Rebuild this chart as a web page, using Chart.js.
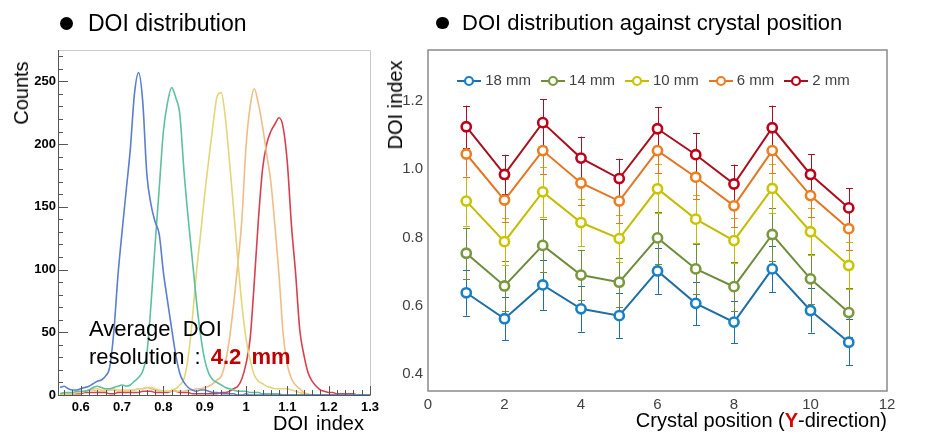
<!DOCTYPE html>
<html><head><meta charset="utf-8">
<script src="https://cdn.jsdelivr.net/npm/chart.js@4.4.1/dist/chart.umd.min.js"></script>
<style>
html,body{margin:0;padding:0;background:#fff;}
#wrap{position:relative;width:948px;height:445px;overflow:hidden;font-family:"Liberation Sans",Arial,sans-serif;background:#fff;}
canvas{position:absolute;top:0;}
#c1{left:0;}
#c2{left:380px;}
.t{position:absolute;white-space:nowrap;color:#000;}
.dot{position:absolute;width:13px;height:13px;border-radius:50%;background:#000;}
.rot{position:absolute;white-space:nowrap;transform:translate(-50%,-50%) rotate(-90deg);}
</style></head><body>
<div id="wrap">
<canvas id="c1" width="380" height="445"></canvas>
<canvas id="c2" width="568" height="445"></canvas>

<div class="dot" style="left:60px;top:16.5px;"></div>
<div class="t" style="left:88px;top:11.5px;font-size:23px;line-height:23px;">DOI distribution</div>
<div class="dot" style="left:436px;top:16.5px;width:12.5px;height:12.5px;"></div>
<div class="t" style="left:462px;top:12.4px;font-size:22px;line-height:22px;">DOI distribution against crystal position</div>

<div class="rot" style="left:21px;top:93px;font-size:20px;line-height:20px;">Counts</div>
<div class="t" style="left:273px;top:413px;font-size:20px;line-height:20px;word-spacing:2px;">DOI index</div>
<div class="t" style="left:89px;top:318.4px;font-size:22px;line-height:22px;word-spacing:6px;">Average DOI</div>
<div class="t" style="left:89px;top:346.4px;font-size:22px;line-height:22px;word-spacing:4px;">resolution : <b style="color:#c00000;">4.2 mm</b></div>

<div class="rot" style="left:395px;top:105px;font-size:20px;line-height:20px;">DOI index</div>
<div class="t" style="right:61px;top:410px;font-size:20px;line-height:20px;">Crystal position (<b style="color:#e00000;">Y</b>-direction)</div>
</div>
<script>
// ---------- Left panel: DOI distribution histograms ----------
const doiBins = [0.55,0.56,0.57,0.58,0.59,0.60,0.61,0.62,0.63,0.64,
  0.65,0.66,0.67,0.68,0.69,0.70,0.71,0.72,0.73,0.74,
  0.75,0.76,0.77,0.78,0.79,0.80,0.81,0.82,0.83,0.84,
  0.85,0.86,0.87,0.88,0.89,0.90,0.91,0.92,0.93,0.94,
  0.95,0.96,0.97,0.98,0.99,1.00,1.01,1.02,1.03,1.04,
  1.05,1.06,1.07,1.08,1.09,1.10,1.11,1.12,1.13,1.14,
  1.15,1.16,1.17,1.18,1.19,1.20,1.21,1.22,1.23,1.24,
  1.25,1.26,1.27,1.28,1.29,1.30];
const counts18 = [6,7,5,4,4,5,6,7,9,11, 12,15,22,50,95,130,163,196,240,257, 234,176,152,138,128,98,75,53,32,17, 10,6,4,3,4,4,3,2,2,1, 1,1,1,0,0,1,0,0,0,0, 0,0,0,0,0,0,0,0,0,0, 0,0,0,0,0,0,0,0,0,0, 0,0,0,0,0,0];
const counts14 = [1,2,2,2,3,3,3,4,6,7, 6,5,5,6,7,8,7,8,11,14, 19,33,72,120,165,210,233,245,237,223, 178,141,108,75,48,28,17,12,10,8, 6,5,4,3,3,3,2,2,2,1, 1,1,1,1,0,0,0,0,0,0, 0,0,0,0,0,0,0,0,0,0, 0,0,0,0,0,0];
const counts10 = [0,1,1,1,2,2,3,4,5,5, 4,4,5,5,4,4,4,4,4,5, 5,6,6,5,4,3,3,4,5,8, 13,30,60,98,128,160,188,215,238,241, 221,186,148,108,72,45,28,16,11,9, 7,6,5,5,5,5,4,3,2,1, 0,0,0,0,0,0,0,0,0,0, 0,0,0,0,0,0];
const counts6 = [0,0,1,1,2,2,3,4,4,3, 3,3,4,4,3,3,3,3,4,5, 5,6,5,4,3,3,3,3,3,3, 3,4,4,5,5,6,7,9,12,15, 26,45,72,104,140,198,230,244,232,214, 192,170,135,95,48,24,13,8,5,2, 1,0,0,0,0,0,0,0,0,0, 0,0,0,0,0,0];
const counts2 = [1,1,1,1,1,1,2,2,2,2, 2,2,1,1,2,2,2,2,2,2, 3,3,3,2,2,2,2,3,3,2, 2,2,1,1,1,1,1,1,1,2, 2,3,5,7,13,25,45,90,140,180, 200,210,216,221,213,185,135,97,52,32, 18,11,7,4,3,2,2,1,1,1, 1,1,0,0,0,0];
const histSeries = [counts18, counts14, counts10, counts6, counts2];
const histColors = ['#5a7fcf','#5fc0a0','#e2d67a','#f0bd86','#d9404f'];
const histXTicks = [0.6,0.7,0.8,0.9,1.0,1.1,1.2,1.3];
const histXTickLabels = ['0.6','0.7','0.8','0.9','1','1.1','1.2','1.3'];
const histYTicks = [0,50,100,150,200,250];
const histYTickLabels = ['0','50','100','150','200','250'];

// ---------- Right panel: DOI index vs crystal position ----------
const crystalPos = [1,2,3,4,5,6,7,8,9,10,11];
const seriesLabels = ['18 mm','14 mm','10 mm','6 mm','2 mm'];
const doi18 = [0.638,0.562,0.661,0.591,0.571,0.702,0.607,0.552,0.708,0.586,0.493];
const doi14 = [0.754,0.658,0.777,0.690,0.669,0.799,0.708,0.656,0.809,0.679,0.580];
const doi10 = [0.907,0.788,0.934,0.844,0.797,0.943,0.854,0.791,0.944,0.817,0.718];
const doi6  = [1.045,0.910,1.055,0.960,0.907,1.055,0.977,0.893,1.055,0.923,0.826];
const doi2  = [1.125,0.985,1.137,1.033,0.973,1.119,1.043,0.957,1.122,0.985,0.887];
const err18 = [0.067,0.063,0.073,0.067,0.065,0.067,0.064,0.062,0.068,0.065,0.067];
const err14 = [0.075,0.072,0.078,0.074,0.072,0.076,0.074,0.071,0.077,0.073,0.072];
const err10 = [0.072,0.068,0.074,0.070,0.068,0.072,0.070,0.067,0.073,0.069,0.068];
const err6  = [0.066,0.063,0.068,0.065,0.063,0.066,0.065,0.062,0.067,0.064,0.063];
const err2  = [0.062,0.058,0.068,0.063,0.058,0.063,0.064,0.057,0.065,0.060,0.057];
const doiSeries = [doi18, doi14, doi10, doi6, doi2];
const errSeries = [err18, err14, err10, err6, err2];
const lineColors = ['#1f6fa6','#6f8c3c','#c2bd00','#e37622','#a8101f'];
const markColors = ['#1a80c6','#7a983e','#cac500','#ec7f22','#c0001a'];
const posTicks = [0,2,4,6,8,10,12];
const posTickLabels = ['0','2','4','6','8','10','12'];
const doiTicks = [0.4,0.6,0.8,1.0,1.2];
const doiTickLabels = ['0.4','0.6','0.8','1.0','1.2'];

const SANS = '"Liberation Sans", Arial, sans-serif';

// frame + inward ROOT-style ticks for left panel
const rootFrame = {
  id:'rootFrame',
  afterDraw(chart){
    const {ctx, chartArea:a, scales:{x,y}} = chart;
    ctx.save();
    ctx.lineWidth = 1;
    ctx.strokeStyle = '#c8c8c8';
    ctx.beginPath();
    ctx.moveTo(a.left, a.top+0.5); ctx.lineTo(a.right+0.5, a.top+0.5); ctx.lineTo(a.right+0.5, a.bottom);
    ctx.stroke();
    ctx.strokeStyle = '#555';
    ctx.beginPath();
    ctx.moveTo(a.left+0.5, a.top); ctx.lineTo(a.left+0.5, a.bottom+0.5); ctx.lineTo(a.right+0.5, a.bottom+0.5);
    ctx.stroke();
    ctx.beginPath();
    for (let v = 0; v <= 270; v += 10) {
      const py = Math.round(y.getPixelForValue(v)) + 0.5;
      const len = (v % 50 === 0) ? 10 : 5;
      ctx.moveTo(a.left, py); ctx.lineTo(a.left + len, py);
    }
    for (let k = 28; k <= 65; k++) {
      const v = k * 0.02;
      if (v < x.min - 1e-9) continue;
      const px = Math.round(x.getPixelForValue(v)) + 0.5;
      const len = (k % 5 === 0) ? 9 : 5;
      ctx.moveTo(px, a.bottom); ctx.lineTo(px, a.bottom - len);
    }
    ctx.stroke();
    ctx.restore();
  }
};

new Chart(document.getElementById('c1'), {
  type:'line',
  data:{ datasets: histSeries.map((s,i)=>({
    data: s.map((c,j)=>({x: doiBins[j], y: c})),
    borderColor: histColors[i], borderWidth: 1.6, pointRadius: 0,
    cubicInterpolationMode: 'monotone', fill:false
  }))},
  options:{
    responsive:false, animation:false, devicePixelRatio:1,
    layout:{padding:{left:0,right:10,top:50,bottom:0}},
    plugins:{legend:{display:false}, tooltip:{enabled:false}},
    scales:{
      x:{type:'linear', min:0.545, max:1.3,
        afterBuildTicks:s=>{ s.ticks = histXTicks.map(v=>({value:v})); },
        afterFit:s=>{ s.height = 50; s.paddingRight = 0; s.paddingLeft = 0; },
        ticks:{callback:(v,i)=>histXTickLabels[i], autoSkip:false, maxRotation:0, padding:5,
          color:'#000', font:{family:SANS, size:13, weight:'bold'}},
        grid:{display:false, drawTicks:false}, border:{display:false}},
      y:{type:'linear', min:0, max:275,
        afterBuildTicks:s=>{ s.ticks = histYTicks.map(v=>({value:v})); },
        afterFit:s=>{ s.width = 58; },
        ticks:{callback:(v,i)=>histYTickLabels[i], autoSkip:false, padding:2,
          color:'#000', font:{family:SANS, size:13, weight:'bold'}},
        grid:{display:false, drawTicks:false}, border:{display:false}}
    }
  },
  plugins:[rootFrame]
});

// right panel helpers
function legendMark(lc, mc){
  const c = document.createElement('canvas'); c.width = 24; c.height = 12;
  const g = c.getContext('2d');
  g.strokeStyle = lc; g.lineWidth = 2;
  g.beginPath(); g.moveTo(0,6); g.lineTo(24,6); g.stroke();
  g.beginPath(); g.arc(12,6,4,0,Math.PI*2); g.fillStyle = '#fff'; g.fill();
  g.strokeStyle = mc; g.lineWidth = 2.2; g.stroke();
  return c;
}
const marks = lineColors.map((c,i)=>legendMark(c, markColors[i]));

const errorBars = {
  id:'errorBars',
  beforeDatasetsDraw(chart){
    const {ctx, scales:{y}} = chart;
    ctx.save();
    ctx.lineWidth = 1;
    chart.data.datasets.forEach((d,i)=>{
      const meta = chart.getDatasetMeta(i);
      ctx.strokeStyle = lineColors[i];
      ctx.beginPath();
      meta.data.forEach((pt,j)=>{
        const v = doiSeries[i][j], e = errSeries[i][j];
        const x = Math.round(pt.x) + 0.5;
        const y1 = y.getPixelForValue(v + e), y2 = y.getPixelForValue(v - e);
        ctx.moveTo(x, y1); ctx.lineTo(x, y2);
        ctx.moveTo(x-3.5, Math.round(y1)+0.5); ctx.lineTo(x+3.5, Math.round(y1)+0.5);
        ctx.moveTo(x-3.5, Math.round(y2)+0.5); ctx.lineTo(x+3.5, Math.round(y2)+0.5);
      });
      ctx.stroke();
    });
    ctx.restore();
  },
  afterDraw(chart){
    const {ctx, chartArea:a} = chart;
    ctx.save();
    ctx.strokeStyle = '#8a8a8a'; ctx.lineWidth = 1.5;
    ctx.strokeRect(a.left, a.top, a.right - a.left, a.bottom - a.top);
    // horizontal legend inside the plot area
    ctx.font = '15px ' + SANS;
    ctx.textBaseline = 'middle';
    ctx.fillStyle = '#404040';
    const markW = 24, gapText = 4, gapItem = 10;
    const items = chart.data.datasets.map((d,i)=>({text:d.label, w: markW + gapText + ctx.measureText(d.label).width, i}));
    const total = items.reduce((s,it)=>s+it.w,0) + gapItem*(items.length-1);
    let x = (a.left + a.right)/2 - total/2 - 4;
    const yc = a.top + 31;
    items.forEach(it=>{
      ctx.drawImage(marks[it.i], Math.round(x), Math.round(yc - 6));
      ctx.fillText(it.text, x + markW + gapText, yc);
      x += it.w + gapItem;
    });
    ctx.restore();
  }
};

new Chart(document.getElementById('c2'), {
  type:'line',
  data:{ datasets: doiSeries.map((s,i)=>({
    label: seriesLabels[i],
    data: s.map((v,j)=>({x: crystalPos[j], y: v})),
    borderColor: lineColors[i], borderWidth: 2,
    pointRadius: 4.6, pointBorderWidth: 2.6, pointBorderColor: markColors[i],
    pointBackgroundColor: '#fff', tension: 0, fill:false
  }))},
  options:{
    responsive:false, animation:false, devicePixelRatio:1,
    layout:{padding:{left:0,right:61,top:50,bottom:0}},
    plugins:{ tooltip:{enabled:false}, legend:{display:false} },
    scales:{
      x:{type:'linear', min:0, max:12,
        afterBuildTicks:s=>{ s.ticks = posTicks.map(v=>({value:v})); },
        afterFit:s=>{ s.height = 54; },
        ticks:{callback:(v,i)=>posTickLabels[i], autoSkip:false, maxRotation:0, padding:5,
          color:'#404040', font:{family:SANS, size:15}},
        grid:{display:false, drawTicks:false}, border:{display:false}},
      y:{type:'linear', min:0.35, max:1.35,
        afterBuildTicks:s=>{ s.ticks = doiTicks.map(v=>({value:v})); },
        afterFit:s=>{ s.width = 48; },
        ticks:{callback:(v,i)=>doiTickLabels[i], autoSkip:false, padding:5,
          color:'#404040', font:{family:SANS, size:15}},
        grid:{display:false, drawTicks:false}, border:{display:false}}
    }
  },
  plugins:[errorBars]
});
</script>
</body></html>
